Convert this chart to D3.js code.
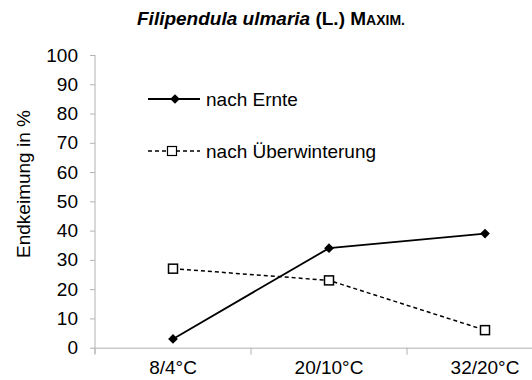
<!DOCTYPE html>
<html><head><meta charset="utf-8">
<script src="https://cdn.jsdelivr.net/npm/d3@7"></script>
<style>
html,body{margin:0;padding:0;background:#fff;}
svg{display:block;font-family:"Liberation Sans",Arial,sans-serif;}
</style></head>
<body>
<svg id="chart" width="532" height="380"></svg>
<script>
const categories = ["8/4°C", "20/10°C", "32/20°C"];
const ernte = [3, 34, 39];
const ueberwinterung = [27, 23, 6];
const yTicks = [0, 10, 20, 30, 40, 50, 60, 70, 80, 90, 100];
const seriesNames = ["nach Ernte", "nach Überwinterung"];

const svg = d3.select("#chart");
const axisColor = "#b3b3b3";
const x = d3.scaleBand().domain(categories).range([95, 563]).paddingInner(0).paddingOuter(0);
const y = d3.scaleLinear().domain([0, 100]).range([347.7, 55]);

// Title
const title = svg.append("text").attr("x", 271).attr("y", 25).attr("text-anchor", "middle")
  .attr("font-weight", "bold").attr("font-size", 19).attr("fill", "#000");
title.append("tspan").attr("font-style", "italic").text("Filipendula ulmaria");
title.append("tspan").text(" (L.) M");
title.append("tspan").attr("font-size", 14).text("AXIM.");

// Y axis
const yAxis = d3.axisLeft(y).tickValues(yTicks).tickSize(5).tickPadding(12);
const gy = svg.append("g").attr("transform", "translate(95,0)").call(yAxis);
gy.select(".domain").remove();
gy.selectAll(".tick line").attr("stroke", axisColor);
gy.selectAll(".tick text").attr("font-size", 19).attr("fill", "#000")
  .attr("font-family", "'Liberation Sans',Arial,sans-serif");
svg.append("line").attr("x1", 95).attr("x2", 95).attr("y1", y(100)).attr("y2", y(0) + 6)
  .attr("stroke", axisColor).attr("stroke-width", 1);

// X axis
const xAxis = d3.axisBottom(x).tickSize(0).tickPadding(13);
const gx = svg.append("g").attr("transform", `translate(0,${y(0)})`).call(xAxis);
gx.select(".domain").attr("stroke", axisColor);
gx.selectAll(".tick text").attr("font-size", 19).attr("fill", "#000")
  .attr("font-family", "'Liberation Sans',Arial,sans-serif");
const bounds = categories.map(c => x(c)).concat([x.range()[1]]);
svg.append("g").selectAll("line").data(bounds).join("line")
  .attr("x1", d => d).attr("x2", d => d).attr("y1", y(0)).attr("y2", y(0) + 7)
  .attr("stroke", axisColor);

const cx = c => x(c) + x.bandwidth() / 2;
const line = d3.line().x(d => cx(d.c)).y(d => y(d.v));
const dE = categories.map((c, i) => ({c, v: ernte[i]}));
const dU = categories.map((c, i) => ({c, v: ueberwinterung[i]}));

svg.append("path").datum(dU).attr("d", line).attr("fill", "none").attr("stroke", "#000")
  .attr("stroke-width", 1.5).attr("stroke-dasharray", "4,3");
svg.append("path").datum(dE).attr("d", line).attr("fill", "none").attr("stroke", "#000")
  .attr("stroke-width", 1.8);

const diamond = d3.symbol().type(d3.symbolDiamond2).size(60);
svg.append("g").selectAll("path").data(dE).join("path")
  .attr("d", diamond).attr("transform", d => `translate(${cx(d.c)},${y(d.v)})`).attr("fill", "#000");
svg.append("g").selectAll("rect").data(dU).join("rect")
  .attr("x", d => cx(d.c) - 4.5).attr("y", d => y(d.v) - 4.5).attr("width", 9).attr("height", 9)
  .attr("fill", "#fff").attr("stroke", "#000").attr("stroke-width", 1.5);

// Legend
const lg = svg.append("g");
lg.append("line").attr("x1", 148).attr("x2", 200).attr("y1", 99).attr("y2", 99).attr("stroke", "#000").attr("stroke-width", 1.8);
lg.append("path").attr("d", diamond).attr("transform", "translate(175,99)").attr("fill", "#000");
lg.append("text").attr("x", 206).attr("y", 99).attr("dy", "0.35em").attr("font-size", 19).text(seriesNames[0]);
lg.append("line").attr("x1", 148).attr("x2", 200).attr("y1", 151).attr("y2", 151).attr("stroke", "#000")
  .attr("stroke-width", 1.5).attr("stroke-dasharray", "4,3");
lg.append("rect").attr("x", 167.5).attr("y", 146.5).attr("width", 9).attr("height", 9)
  .attr("fill", "#fff").attr("stroke", "#000").attr("stroke-width", 1.2);
lg.append("text").attr("x", 206).attr("y", 151).attr("dy", "0.35em").attr("font-size", 19).text(seriesNames[1]);

// Y label
svg.append("text").attr("transform", "translate(30,184) rotate(-90)").attr("text-anchor", "middle")
  .attr("font-size", 19).text("Endkeimung in %");
</script>
</body></html>
